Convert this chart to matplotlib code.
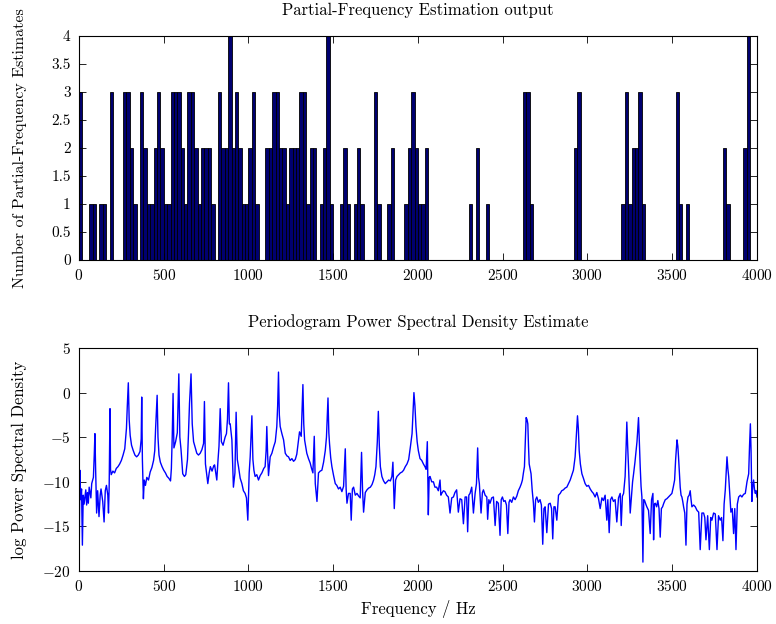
import matplotlib
matplotlib.use("Agg")
import matplotlib.pyplot as plt

plt.rcParams["font.family"] = ["cmr10", "DejaVu Serif"]
plt.rcParams["axes.unicode_minus"] = False
plt.rcParams["axes.formatter.use_mathtext"] = True

# histogram of partial-frequency estimates, 20 Hz bins (bin index -> count)
bin_width = 20
bin_index = [0, 3, 4, 6, 7, 9, 13, 14, 15, 16, 18, 19, 20, 21, 22, 23, 24, 25, 26,
             27, 28, 29, 30, 31, 32, 33, 34, 35, 36, 37, 38, 39, 41, 42, 43, 44, 45,
             46, 47, 48, 49, 50, 51, 52, 55, 56, 57, 58, 59, 60, 61, 62, 63, 64, 65,
             66, 67, 68, 69, 71, 72, 73, 74, 77, 78, 79, 81, 82, 83, 87, 88, 91, 92,
             96, 97, 98, 99, 100, 101, 102, 115, 117, 120, 131, 132, 133, 146, 147,
             160, 161, 162, 163, 164, 165, 166, 176, 177, 179, 190, 191, 196, 197]
counts = [3, 1, 1, 1, 1, 3, 3, 3, 2, 1, 3, 2, 1, 1, 2, 3, 2, 1, 1,
          3, 3, 3, 2, 1, 3, 3, 2, 1, 2, 2, 2, 1, 3, 2, 2, 4, 2,
          3, 2, 1, 1, 2, 3, 1, 2, 2, 3, 3, 2, 2, 1, 2, 2, 2, 3,
          3, 1, 2, 2, 1, 2, 4, 1, 1, 2, 1, 1, 2, 1, 3, 1, 1, 2,
          1, 2, 3, 2, 1, 1, 2, 1, 2, 1, 3, 3, 1, 2, 3,
          1, 3, 1, 2, 2, 3, 1, 3, 1, 1, 2, 1, 2, 4]

# periodogram (Hz, log PSD)
psd_freq = [
    0, 5, 10, 15, 20, 25, 30, 40, 45, 50, 55, 60, 70, 75, 85, 90, 94, 98, 104, 110,
    118, 125, 130, 140, 148, 155, 162, 170, 174, 178, 183, 186, 190, 200, 210, 220,
    230, 240, 250, 260, 270, 280, 285, 291, 296, 302, 310, 320, 330, 340, 350, 360,
    367, 370, 374, 380, 385, 392, 400, 410, 420, 430, 440, 447, 452, 461, 466, 472,
    480, 490, 500, 510, 520, 530, 540, 545, 550, 555, 560, 570, 580, 589, 595, 602,
    612, 622, 630, 640, 646, 652, 661, 668, 676, 685, 695, 705, 715, 725, 735, 740,
    746, 760, 768, 775, 785, 795, 800, 813, 820, 826, 833, 840, 850, 862, 870, 876,
    882, 887, 892, 902, 911, 920, 927, 934, 941, 951, 961, 970, 980, 988, 996,
    1004, 1010, 1020, 1026, 1032, 1039, 1049, 1059, 1069, 1079, 1090, 1098, 1104,
    1108, 1113, 1118, 1128, 1138, 1148, 1158, 1167, 1172, 1177, 1182, 1187, 1197,
    1207, 1217, 1227, 1236, 1246, 1256, 1266, 1276, 1285, 1295, 1301, 1311, 1316,
    1321, 1326, 1331, 1344, 1354, 1364, 1372, 1380, 1388, 1394, 1404, 1413, 1423,
    1433, 1443, 1453, 1460, 1469, 1474, 1478, 1485, 1492, 1502, 1512, 1521, 1531,
    1541, 1551, 1561, 1571, 1576, 1581, 1590, 1600, 1606, 1613, 1620, 1630, 1640,
    1650, 1659, 1667, 1673, 1679, 1689, 1699, 1709, 1719, 1729, 1738, 1745, 1752,
    1760, 1766, 1772, 1778, 1787, 1797, 1807, 1817, 1827, 1837, 1846, 1852, 1860,
    1868, 1876, 1886, 1896, 1906, 1915, 1925, 1935, 1945, 1955, 1965, 1970, 1976,
    1982, 1988, 1995, 2002,
    2012, 2022, 2032, 2041, 2048, 2055, 2061, 2066, 2071, 2081, 2091, 2100, 2110,
    2120, 2130, 2135, 2140, 2150, 2159, 2169, 2179, 2189, 2199, 2209, 2218, 2228,
    2238, 2248, 2258, 2268, 2278, 2287, 2293, 2300, 2307, 2317, 2327, 2337, 2345,
    2352, 2357, 2362, 2372, 2380, 2386, 2396, 2406, 2411, 2418, 2425, 2435, 2445,
    2455, 2464, 2474, 2484, 2491, 2498, 2506, 2514, 2522, 2530, 2537, 2543, 2553,
    2563, 2573, 2583, 2592, 2602, 2610, 2616, 2622, 2628, 2634, 2638, 2643, 2648,
    2652, 2656, 2662, 2667, 2674, 2681, 2687, 2694, 2701, 2710, 2720, 2728, 2736,
    2743, 2750, 2760, 2770, 2780, 2788, 2795, 2802, 2809, 2819, 2829, 2839, 2848,
    2858, 2868, 2878, 2888, 2898, 2908, 2917, 2927, 2935, 2941, 2946, 2951, 2958,
    2967, 2976, 2986, 2996, 3006,
    3016, 3026, 3035, 3045, 3055, 3065, 3075, 3085, 3094, 3104, 3114, 3120, 3128,
    3136, 3144, 3153, 3163, 3173, 3183, 3193, 3199, 3206, 3213, 3222, 3228, 3232,
    3237, 3242, 3247, 3252, 3260, 3266, 3272, 3280, 3285, 3292, 3297, 3301, 3306,
    3311, 3316, 3321, 3327, 3332, 3337, 3344, 3350, 3360, 3370, 3378, 3386, 3390,
    3395, 3400, 3408, 3415, 3422, 3429, 3436, 3443, 3450, 3459, 3468, 3478, 3488,
    3498, 3506, 3514, 3520, 3528, 3533, 3537, 3542, 3547, 3552, 3557, 3562, 3567,
    3574, 3581, 3587, 3593, 3600, 3606, 3611, 3616, 3626, 3636, 3646, 3656, 3665,
    3675, 3685, 3692, 3699, 3709, 3719, 3727, 3734, 3744, 3754, 3764, 3773, 3783,
    3791, 3799, 3806, 3813, 3818, 3823, 3828, 3833, 3840, 3846, 3854, 3862, 3869,
    3876, 3884, 3892, 3902, 3911, 3921, 3931, 3941, 3951, 3956, 3961, 3965, 3970,
    3975, 3980, 3985, 3990, 3995, 4000]
psd_value = [
    -21.0, -8.7, -12.0, -10.8, -17.1, -11.5, -12.5, -10.9, -12.6, -11.2, -12.4, -10.6, -11.8, -10.2, -9.5, -7.0, -4.6, -8.5, -13.5, -11.0,
    -13.9, -11.5, -10.8, -12.2, -14.5, -11.0, -10.4, -11.5, -13.5, -10.5, -1.8, -8.6, -9.2, -8.8, -9.0, -8.5,
    -8.3, -8.0, -7.6, -7.0, -6.3, -4.0, -1.5, 1.1, -3.0, -4.8, -5.9, -6.5, -7.0, -7.2, -7.0, -6.6,
    -5.2, -0.5, -7.5, -11.9, -9.8, -10.4, -9.5, -9.8, -8.9, -8.4, -7.6, -6.5, -4.0, -0.3, -5.0, -7.0,
    -7.8, -8.3, -8.7, -9.0, -9.4, -9.6, -9.9, -8.5, -5.0, -0.1, -6.2, -5.5, -4.5, 2.1, -5.0, -6.4,
    -9.1, -9.4, -9.2, -7.5, -4.6, -1.2, 2.1, -3.5, -5.5, -6.1, -6.8, -7.0, -6.8, -6.4, -5.7, -1.0,
    -8.0, -10.2, -9.0, -8.3, -8.8, -8.2, -8.1, -9.8, -7.6, -6.0, -1.8, -5.5, -5.9, -5.0, -4.6, -3.0,
    1.1, -3.5, -3.5, -5.3, -10.6, -9.0, -2.2, -7.5, -8.3, -9.6, -10.2, -11.0, -11.3, -11.8, -14.3,
    -9.0, -7.2, -2.6, -7.5, -8.7, -9.4, -9.2, -9.8, -9.3, -9.0, -8.5, -8.3, -6.5,
    -3.8, -7.0, -9.3, -7.2, -6.8, -6.1, -5.5, -3.8, -1.5, 2.3, -2.5, -3.8, -4.6,
    -5.3, -6.8, -7.1, -7.2, -7.6, -7.4, -7.7, -7.5, -6.9, -5.3, -4.4, -4.9, -2.0,
    0.9, -3.5, -5.3, -6.8, -7.4, -7.9, -8.5, -9.0, -4.9, -10.2, -12.2, -9.0, -8.8,
    -8.7, -7.8, -6.5, -5.0, -0.6, -4.5, -5.7, -7.3, -8.3, -9.3, -10.2, -10.4, -10.8,
    -10.6, -11.1, -10.5, -6.3, -10.8, -12.4, -11.3, -11.3, -14.3, -10.8, -10.6, -11.5, -11.3,
    -11.6, -11.8, -6.7, -11.0, -13.4, -11.2, -10.9, -10.7, -10.6, -10.3, -9.8, -9.2, -8.3,
    -5.5, -2.1, -6.0, -8.3, -9.4, -9.9, -10.2, -10.0, -9.8, -9.9, -9.4, -7.8, -13.0,
    -9.8, -9.4, -9.2, -9.0, -8.9, -8.7, -8.3, -8.0, -7.5, -6.1, -4.6, -2.5, 0.0,
    -1.5, -3.8, -5.5, -6.5,
    -7.4, -7.6, -8.0, -8.3, -8.6, -5.5, -13.7, -9.5, -9.4, -10.0, -10.0, -10.6, -10.6,
    -11.0, -9.8, -11.5, -11.3, -11.0, -11.1, -11.5, -11.7, -13.5, -11.8, -11.7, -11.2, -10.9,
    -13.4, -11.9, -12.0, -14.7, -11.7, -11.7, -15.6, -11.5, -11.3, -10.6, -13.5, -11.3, -10.2,
    -6.2, -9.5, -10.2, -13.5, -11.2, -10.9, -11.5, -11.7, -14.2, -12.0, -12.4, -11.8, -11.7,
    -14.9, -12.2, -12.4, -16.0, -12.0, -11.7, -12.2, -12.1, -12.6, -15.8, -12.3, -12.0, -12.3,
    -11.7, -12.0, -11.6, -11.0, -10.6, -10.2, -9.8, -9.0, -8.3, -5.0, -2.8, -3.0, -3.5,
    -6.0, -8.0, -8.6, -9.1, -11.0, -12.4, -14.5, -12.0, -11.7, -12.3, -12.0, -12.6, -17.0,
    -13.0, -12.8, -15.7, -12.5, -12.4, -13.0, -16.4, -12.8, -12.8, -14.3, -11.5, -11.3, -11.0,
    -10.9, -10.7, -10.6, -10.2, -9.8, -9.2, -8.7, -7.2, -4.5, -2.6, -4.0, -6.5, -8.0,
    -9.1, -9.6, -10.2, -10.5, -10.4,
    -10.8, -11.1, -11.3, -11.7, -11.2, -11.9, -13.0, -11.8, -12.1, -11.5, -14.3, -12.0, -15.7,
    -12.0, -11.7, -12.2, -12.0, -14.5, -11.8, -11.3, -14.9, -11.6, -11.3, -9.4, -6.0, -3.3,
    -6.0, -8.3, -11.0, -13.5, -11.5, -10.0, -9.1, -7.8, -6.8, -5.5, -4.0, -2.8, -5.5,
    -8.3, -10.5, -11.7, -19.0, -12.0, -12.1, -12.5, -12.8, -13.2, -15.8, -12.0, -11.3, -16.5,
    -12.5, -12.4, -12.8, -12.1, -13.0, -16.2, -13.0, -12.8, -12.4, -12.0, -11.9, -11.7, -11.5,
    -11.3, -10.6, -9.8, -7.5, -5.3, -6.0, -7.2, -9.0, -10.6, -11.5, -11.7, -12.2, -12.8,
    -13.5, -17.1, -12.5, -11.7, -11.5, -11.0, -12.0, -12.8, -12.6, -12.8, -13.2, -13.4, -17.6,
    -13.5, -13.5, -14.0, -16.5, -13.8, -17.6, -14.0, -14.3, -13.5, -13.6, -17.6, -13.8, -14.3,
    -14.0, -16.6, -12.5, -10.9, -9.0, -7.2, -8.5, -9.4, -11.5, -13.4, -13.0, -15.8, -13.0,
    -17.6, -12.5, -11.7, -11.5, -11.7, -11.4, -11.3, -10.0, -9.1, -6.0, -3.5, -6.5, -12.2,
    -10.5, -9.8, -10.8, -11.3, -11.0, -11.7]

fig = plt.figure(figsize=(7.76, 6.24), dpi=100)
ax1 = fig.add_axes([0.1018, 0.5833, 0.8737, 0.359])
ax2 = fig.add_axes([0.1018, 0.0849, 0.8737, 0.3574])

left_edges = [k * bin_width for k in bin_index]
ax1.bar(left_edges, counts, width=bin_width, align="edge",
        color="#000070", edgecolor="black", linewidth=0.6)
ax1.set_xlim(0, 4000)
ax1.set_ylim(0, 4)
ax1.set_xticks(range(0, 4001, 500))
ax1.set_yticks([0, 0.5, 1, 1.5, 2, 2.5, 3, 3.5, 4])
ax1.set_yticklabels(["0", "0.5", "1", "1.5", "2", "2.5", "3", "3.5", "4"])
ax1.set_title("Partial-Frequency Estimation output", fontsize=12, pad=15)
ax1.set_ylabel("Number of Partial-Frequency Estimates", fontsize=11.5)

ax2.plot(psd_freq, psd_value, color="#0000ff", linewidth=1.0)
ax2.set_xlim(0, 4000)
ax2.set_ylim(-20, 5)
ax2.set_xticks(range(0, 4001, 500))
ax2.set_yticks(range(-20, 6, 5))
ax2.set_title("Periodogram Power Spectral Density Estimate", fontsize=12, pad=15)
ax2.set_ylabel("log Power Spectral Density", fontsize=12)
ax2.set_xlabel("Frequency / Hz", fontsize=12, labelpad=4)

for ax in (ax1, ax2):
    ax.tick_params(direction="in", top=True, right=True, labelsize=11,
                   length=5, width=0.6, pad=6)
    ax.yaxis.set_label_coords(-0.077, 0.5)
    for s in ax.spines.values():
        s.set_linewidth(0.8)

fig.savefig("out.png", dpi=100)
